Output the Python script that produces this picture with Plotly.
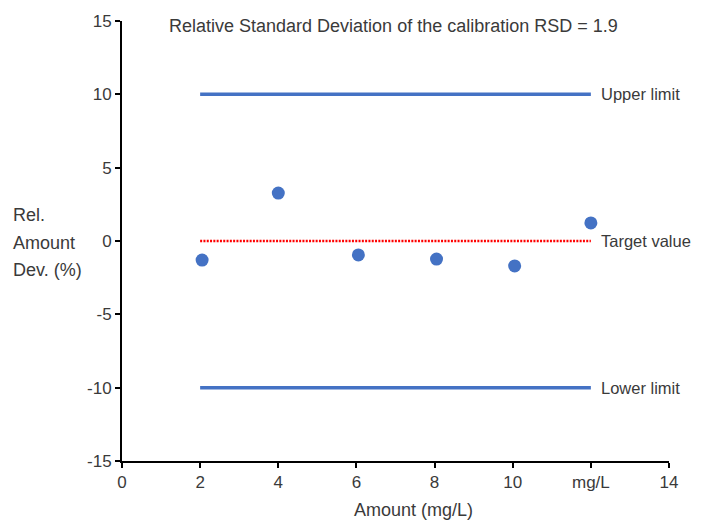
import plotly.graph_objects as go

##########
# Values #
##########

amounts = [2.05, 4.0, 6.05, 8.05, 10.05, 12.0]
rel_dev = [-1.3, 3.27, -0.95, -1.23, -1.7, 1.23]

limit_x = [2, 12]
upper_limit = [10, 10]
target_value = [0, 0]
lower_limit = [-10, -10]

x_tickvals = [0, 2, 4, 6, 8, 10, 12, 14]
x_ticktext = ["0", "2", "4", "6", "8", "10", "mg/L", "14"]
y_tickvals = [-15, -10, -5, 0, 5, 10, 15]
y_ticktext = ["-15", "-10", "-5", "0", "5", "10", "15"]

#########
# Style #
#########

BLUE = "#4472C4"
RED = "#FF0000"
TEXT = "#3a3a3a"
FONT = dict(family="Liberation Sans, Arial, sans-serif", size=18, color=TEXT)
LABEL_FONT = dict(family="Liberation Sans, Arial, sans-serif", size=16.5, color=TEXT)
TICK_FONT = dict(family="Liberation Sans, Arial, sans-serif", size=17, color=TEXT)

fig = go.Figure()

fig.add_trace(go.Scatter(x=limit_x, y=upper_limit, mode="lines",
                         line=dict(color=BLUE, width=3.5)))
fig.add_trace(go.Scatter(x=limit_x, y=lower_limit, mode="lines",
                         line=dict(color=BLUE, width=3.5)))
fig.add_trace(go.Scatter(x=limit_x, y=target_value, mode="lines",
                         line=dict(color=RED, width=2.5, dash="2px,1.3px")))
fig.add_trace(go.Scatter(x=amounts, y=rel_dev, mode="markers",
                         marker=dict(color=BLUE, size=13,
                                     line=dict(width=0))))

###############
# Annotations #
###############

labels = [("Upper limit", 10), ("Target value", 0), ("Lower limit", -10)]
for text, yv in labels:
    fig.add_annotation(x=12.22, y=yv, xref="x", yref="y", text=text,
                       showarrow=False, xanchor="left", yanchor="middle",
                       font=LABEL_FONT)

fig.add_annotation(x=0.497, y=0.989, xref="paper", yref="paper",
                   text="Relative Standard Deviation of the calibration RSD = 1.9",
                   showarrow=False, xanchor="center", yanchor="middle", font=FONT)

fig.add_annotation(x=0.532, y=-0.111, xref="paper", yref="paper",
                   text="Amount (mg/L)", showarrow=False,
                   xanchor="center", yanchor="middle", font=FONT)

for text, ypx in [("Rel.", 215), ("Amount", 243), ("Dev. (%)", 270)]:
    fig.add_annotation(x=-0.203, y=(461 - ypx) / 440, xref="paper", yref="paper",
                       text=text, showarrow=False, xanchor="left",
                       yanchor="middle", font=FONT)

##########
# Layout #
##########

# page body keeps an 8px margin, so the figure is drawn 8px smaller
fig.update_layout(
    width=693, height=512,
    margin=dict(l=114, r=32, t=13, b=59),
    plot_bgcolor="white", paper_bgcolor="white",
    showlegend=False,
    font=FONT,
)
fig.update_xaxes(range=[0, 14], tickvals=x_tickvals, ticktext=x_ticktext,
                 showgrid=False, zeroline=False, showline=True, automargin=False,
                 linecolor="black", linewidth=2, ticks="outside",
                 ticklen=5, tickwidth=2, tickcolor="black", tickfont=TICK_FONT)
fig.update_yaxes(range=[-15, 15], tickvals=y_tickvals, ticktext=y_ticktext,
                 showgrid=False, zeroline=False, showline=True, automargin=False,
                 linecolor="black", linewidth=2, ticks="outside",
                 ticklen=5, tickwidth=2, tickcolor="black", tickfont=TICK_FONT)

fig.write_html("out.html")
